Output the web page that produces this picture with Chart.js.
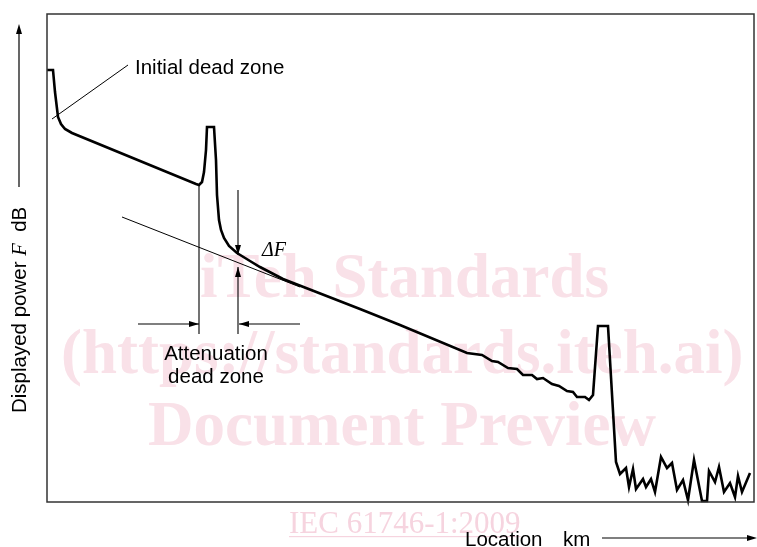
<!DOCTYPE html>
<html>
<head>
<meta charset="utf-8">
<script src="https://cdn.jsdelivr.net/npm/chart.js@4.4.1/dist/chart.umd.min.js"></script>
<style>
html,body{margin:0;padding:0;background:#fff;}
#wrap{width:757px;height:547px;position:relative;}
</style>
</head>
<body>
<div id="wrap"><canvas id="c" width="757" height="547"></canvas></div>
<script>
// OTDR trace: location (arbitrary units) vs displayed power (arbitrary dB units)
const location_ = [0,6,8,11,14,18,25,149,152,155,157,159,160,167,169,170,172,174,177,182,190,203,213,236,313,353,420,435,445,451,461,470,476,485,490,496,505,512,520,526,530,538,542,546,551,561,569,573,579,582,586,589,596,599,604,608,614,620,625,630,636,641,647,655,660,662,668,672,677,683,688,691,695,703];
const power = [432,432,410,385,378,373,369,318,317,320,330,352,375,375,342,307,282,272,264,256,249,241,235,223,193,177,149,147,141,140,134,133,127,127,123,124,118,116,111,110,105,105,102,107,176,176,40,28,34,15,33,13,23,15,23,10,45,34,39,12,22,2,42,1,1,31,20,35,10,19,5,26,10,29];

// Tangent (extrapolated backscatter line)
const tangentX = [75,253];
const tangentY = [285,215];
// Leader line for "Initial dead zone"
const leaderX = [5,81];
const leaderY = [383,437];
// Attenuation dead zone markers
const markerStartX = [152,152];
const markerStartY = [317,168];
const deltaDownX = [191,191];
const deltaDownY = [312,247];
const deltaUpX = [191,191];
const deltaUpY = [168,235];
const leftArrowX = [91,152];
const leftArrowY = [178,178];
const rightArrowX = [253,192];
const rightArrowY = [178,178];

const labels = {
  initial: {text:'Initial dead zone', x:88, y:428},
  delta: {text:'\u0394F', x:215, y:246},
  att1: {text:'Attenuation', x:169, y:142},
  att2: {text:'dead zone', x:169, y:119}
};
const yTitle = ['Displayed power ', 'F', '  dB'];
const xTitle = ['Location', 'km'];
const watermark = ['iTeh Standards', '(https://standards.iteh.ai)', 'Document Preview', 'IEC 61746-1:2009'];

function pts(xs, ys){ return xs.map((x,i)=>({x:x, y:ys[i]})); }
function ds(xs, ys, w){
  return {data: pts(xs,ys), showLine:true, borderColor:'#000', borderWidth:w, pointRadius:0, fill:false, tension:0, clip:false};
}

const SANS = '"Liberation Sans", Arial, sans-serif';
const SERIF = '"Liberation Serif", "Times New Roman", serif';

function arrowHead(ctx, x0, y0, x1, y1, len, half){
  const a = Math.atan2(y1-y0, x1-x0);
  ctx.beginPath();
  ctx.moveTo(x1, y1);
  ctx.lineTo(x1 - len*Math.cos(a) + half*Math.sin(a), y1 - len*Math.sin(a) - half*Math.cos(a));
  ctx.lineTo(x1 - len*Math.cos(a) - half*Math.sin(a), y1 - len*Math.sin(a) + half*Math.cos(a));
  ctx.closePath();
  ctx.fill();
}

const watermarkPlugin = {
  id:'wm',
  beforeDraw(chart){
    const ctx = chart.ctx;
    ctx.save();
    ctx.fillStyle = '#f9e1e8';
    ctx.font = 'bold 63px ' + SERIF;
    ctx.textBaseline = 'alphabetic';
    ctx.textAlign = 'left';
    ctx.fillText(watermark[0], 200, 297);
    ctx.fillText(watermark[1], 61, 373);
    ctx.fillText(watermark[2], 148, 445);
    ctx.font = '31px ' + SERIF;
    ctx.fillStyle = '#f6d4df';
    ctx.fillText(watermark[3], 289, 533);
    const w = ctx.measureText(watermark[3]).width;
    ctx.fillRect(289, 536, w, 1.2);
    ctx.restore();
  }
};

const annotPlugin = {
  id:'annot',
  afterDatasetsDraw(chart){
    const ctx = chart.ctx;
    const xs = chart.scales.x, ys = chart.scales.y;
    const X = v => xs.getPixelForValue(v), Y = v => ys.getPixelForValue(v);
    const ca = chart.chartArea;
    ctx.save();
    // frame
    ctx.strokeStyle = '#333';
    ctx.lineWidth = 1.5;
    ctx.strokeRect(ca.left, ca.top, ca.right-ca.left, ca.bottom-ca.top);
    ctx.fillStyle = '#000';
    // arrowheads
    arrowHead(ctx, X(deltaDownX[0]), Y(deltaDownY[0]), X(deltaDownX[1]), Y(deltaDownY[1]), 10, 3);
    arrowHead(ctx, X(deltaUpX[0]), Y(deltaUpY[0]), X(deltaUpX[1]), Y(deltaUpY[1]), 10, 3);
    arrowHead(ctx, X(leftArrowX[0]), Y(leftArrowY[0]), X(leftArrowX[1]), Y(leftArrowY[1]), 10, 3);
    arrowHead(ctx, X(rightArrowX[0]), Y(rightArrowY[0]), X(rightArrowX[1]), Y(rightArrowY[1]), 10, 3);
    // labels
    ctx.fillStyle = '#000';
    ctx.textBaseline = 'alphabetic';
    ctx.font = '20.5px ' + SANS;
    ctx.textAlign = 'left';
    ctx.fillText(labels.initial.text, X(labels.initial.x), Y(labels.initial.y));
    ctx.textAlign = 'center';
    ctx.fillText(labels.att1.text, X(labels.att1.x), Y(labels.att1.y));
    ctx.fillText(labels.att2.text, X(labels.att2.x), Y(labels.att2.y));
    ctx.textAlign = 'left';
    ctx.font = 'italic 20px ' + SERIF;
    ctx.fillText(labels.delta.text, X(labels.delta.x), Y(labels.delta.y));

    // Y axis title (rotated)
    ctx.save();
    ctx.translate(26, 413);
    ctx.rotate(-Math.PI/2);
    ctx.textAlign = 'left';
    ctx.font = '20.5px ' + SANS;
    let px = 0;
    ctx.fillText(yTitle[0], px, 0); px += ctx.measureText(yTitle[0]).width;
    ctx.font = 'italic 20.5px ' + SERIF;
    ctx.fillText(yTitle[1], px, 0); px += ctx.measureText(yTitle[1]).width;
    ctx.font = '20.5px ' + SANS;
    ctx.fillText(yTitle[2], px, 0);
    ctx.restore();
    // Y arrow
    ctx.strokeStyle = '#000';
    ctx.lineWidth = 1.2;
    ctx.beginPath(); ctx.moveTo(19, 187); ctx.lineTo(19, 32); ctx.stroke();
    arrowHead(ctx, 19, 187, 19, 24, 10, 3);

    // X axis title
    ctx.font = '20.5px ' + SANS;
    ctx.textAlign = 'left';
    ctx.fillText(xTitle[0], 465, 546);
    ctx.fillText(xTitle[1], 563, 546);
    ctx.beginPath(); ctx.moveTo(602, 538); ctx.lineTo(748, 538); ctx.stroke();
    arrowHead(ctx, 602, 538, 757, 538, 10, 3);
    ctx.restore();
  }
};

new Chart(document.getElementById('c'), {
  type:'scatter',
  data:{
    datasets:[
      ds(location_, power, 2.6),
      ds(tangentX, tangentY, 1),
      ds(leaderX, leaderY, 1),
      ds(markerStartX, markerStartY, 1.1),
      ds(deltaDownX, deltaDownY, 1.1),
      ds(deltaUpX, deltaUpY, 1.1),
      ds(leftArrowX, leftArrowY, 1.1),
      ds(rightArrowX, rightArrowY, 1.1)
    ]
  },
  options:{
    responsive:false,
    animation:false,
    events:[],
    layout:{padding:{left:47, right:3, top:14, bottom:45}},
    plugins:{legend:{display:false}, tooltip:{enabled:false}},
    scales:{
      x:{type:'linear', min:0, max:707, display:false},
      y:{type:'linear', min:0, max:488, display:false}
    }
  },
  plugins:[watermarkPlugin, annotPlugin]
});
</script>
</body>
</html>
